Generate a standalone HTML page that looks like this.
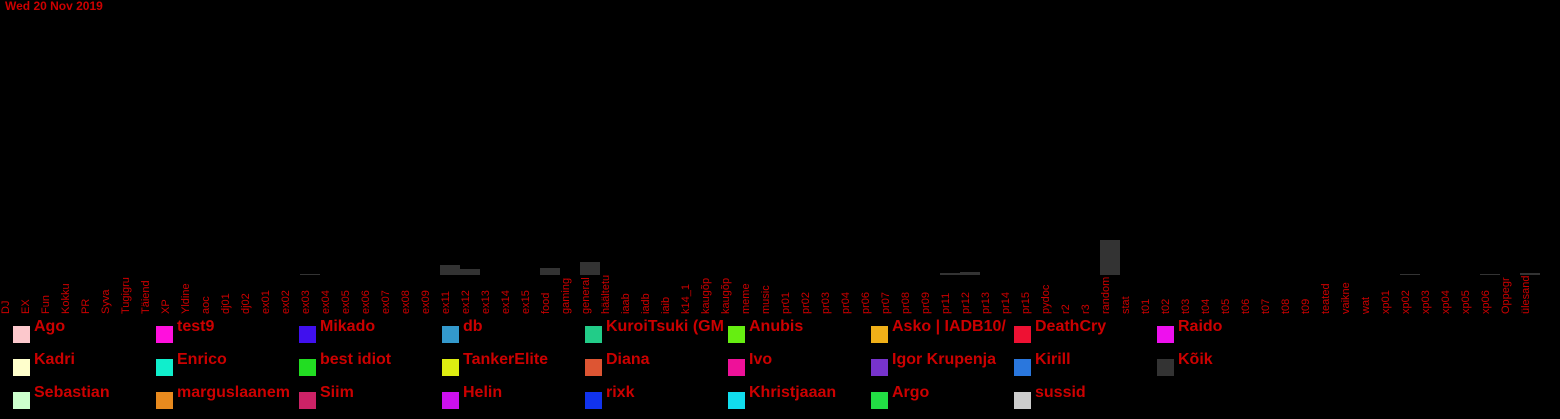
<!DOCTYPE html>
<html><head><meta charset="utf-8">
<style>
html,body{margin:0;padding:0;background:#000;}
body{width:1560px;height:419px;overflow:hidden;position:relative;font-family:"Liberation Sans",sans-serif;}
.leg{position:absolute;width:143px;height:30px;}
.leg .sw{position:absolute;left:0;top:6px;width:17px;height:17px;}
.leg .tx{position:absolute;left:21px;top:-2px;width:122px;overflow:hidden;white-space:nowrap;color:#c00;font-weight:bold;font-size:16px;}
</style></head>
<body>
<svg id="chart" width="1560" height="419" style="position:absolute;left:0;top:0">
<text x="5" y="10" fill="#c00" font-family="Liberation Sans, sans-serif" font-weight="bold" font-size="12">Wed 20 Nov 2019</text>
<g id="bars"></g><g id="labels"></g>
</svg>
<div id="legend"></div>
<script>
const categories=["DJ","EX","Fun","Kokku","PR","Syva","Tugigru","Täiend","XP","Yldine","aoc","dj01","dj02","ex01","ex02","ex03","ex04","ex05","ex06","ex07","ex08","ex09","ex11","ex12","ex13","ex14","ex15","food","gaming","general","häältetu","iaab","iadb","iaib","k14_1","kaugõp","kaugõp","meme","music","pr01","pr02","pr03","pr04","pr06","pr07","pr08","pr09","pr11","pr12","pr13","pr14","pr15","pydoc","r2","r3","random","stat","t01","t02","t03","t04","t05","t06","t07","t08","t09","teated","vaikne","wat","xp01","xp02","xp03","xp04","xp05","xp06","Oppegr","ülesand"];
const valueCats=["ex03","ex11","ex12","food","general","pr11","pr12","random","xp02","xp06","ülesand"];
const values=[1,10,6,7,13,2,3,35,1,1,2];
const legendNames=["Ago","Kadri","Sebastian","test9","Enrico","marguslaanem","Mikado","best idiot","Siim","db","TankerElite","Helin","KuroiTsuki (GM","Diana","rixk","Anubis","Ivo","Khristjaaan","Asko | IADB10/","Igor Krupenja","Argo","DeathCry","Kirill","sussid","Raido","Kõik"];
const legendColors=["#fcc8cc","#ffffcc","#ccffcc","#ff10dd","#10eecc","#e88a1e","#4010ee","#22dd22","#cc2266","#3399cc","#dded11","#cc10ee","#22cc88","#dd5533","#1133ee","#66ee11","#ee1199","#11ddee","#f0b018","#7733cc","#22dd44","#ee1133","#2a77dd","#cccccc","#ee10ee","#333333"];
const NS="http://www.w3.org/2000/svg";
const baseY=275, pxPerUnit=1, step=20;
const xPos=i=>i*step;
const yScale=v=>baseY-v*pxPerUnit;
const bars=document.getElementById('bars');
valueCats.forEach((c,k)=>{
  const i=categories.indexOf(c);
  const r=document.createElementNS(NS,'rect');
  
  
  r.setAttribute('x',xPos(i));r.setAttribute('width',step);
  r.setAttribute('y',yScale(values[k]));r.setAttribute('height',baseY-yScale(values[k]));
  r.setAttribute('fill','#333');
  bars.appendChild(r);
});
const labels=document.getElementById('labels');
categories.forEach((c,i)=>{
  const t=document.createElementNS(NS,'text');
  
  
  const x=xPos(i)+9,y=314;
  t.setAttribute('x',x);t.setAttribute('y',y);
  t.setAttribute('transform','rotate(-90 '+x+' '+y+')');
  t.setAttribute('fill','#c00');t.setAttribute('font-size','11');
  t.setAttribute('font-family','Liberation Sans, sans-serif');
  t.textContent=c;
  labels.appendChild(t);
});
const leg=document.getElementById('legend');
legendNames.forEach((n,k)=>{
  const col=Math.floor(k/3),row=k%3;
  const d=document.createElement('div');
  d.className='leg';
  
  
  d.style.left=(13+col*143)+'px';d.style.top=(320+row*33)+'px';
  const s=document.createElement('div');s.className='sw';s.style.background=legendColors[k];
  
  
  const t=document.createElement('div');t.className='tx';t.textContent=n;
  
  
  d.appendChild(s);d.appendChild(t);leg.appendChild(d);
});
</script>
</body></html>
